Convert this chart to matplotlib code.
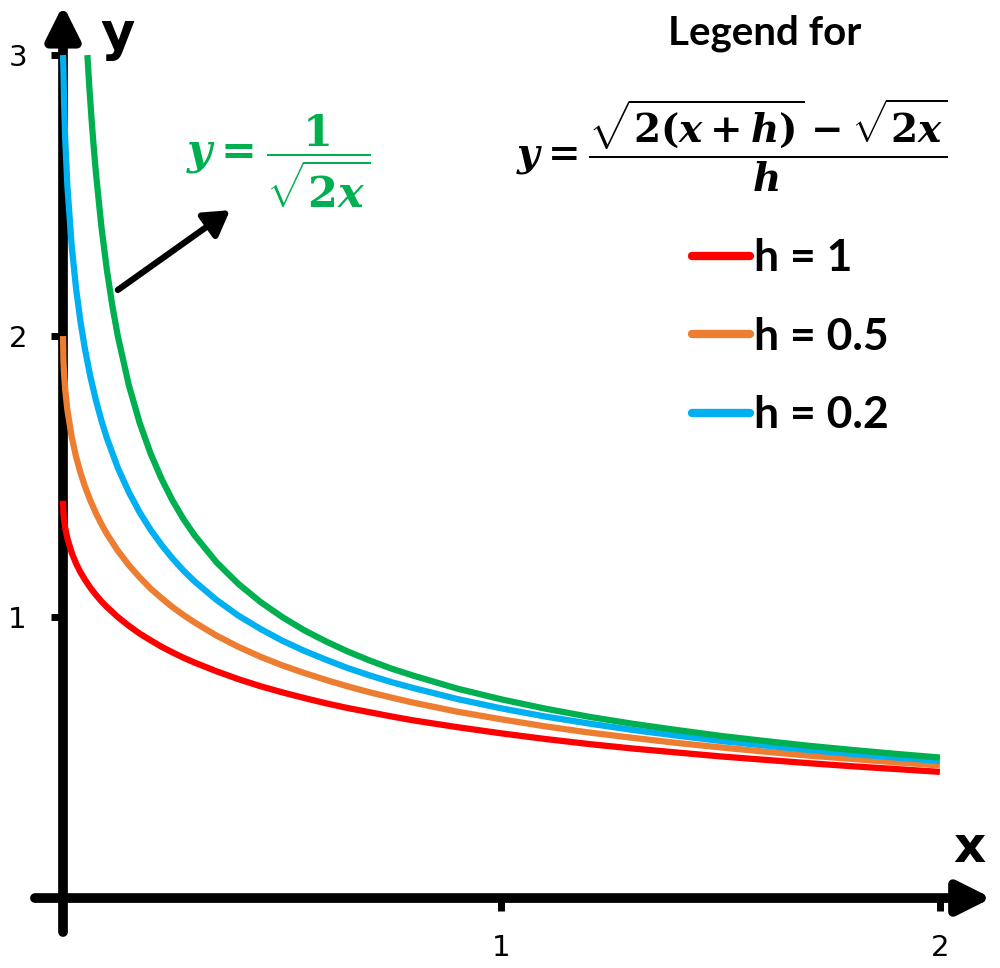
import matplotlib
matplotlib.use("Agg")
import matplotlib.pyplot as plt
from matplotlib.lines import Line2D

# values
x_h = [0, 0.001, 0.0025, 0.005, 0.01, 0.02, 0.03, 0.04, 0.05, 0.0625, 0.075, 0.0875,
       0.1, 0.125, 0.15, 0.175, 0.2, 0.225, 0.25, 0.275, 0.3, 0.35, 0.4, 0.45, 0.5,
       0.55, 0.6, 0.65, 0.7, 0.75, 0.8, 0.9, 1.0, 1.1, 1.2, 1.3, 1.4, 1.5, 1.6, 1.7,
       1.8, 1.9, 2.0]
y_h1 = [1.414, 1.370, 1.345, 1.318, 1.280, 1.228, 1.190, 1.159, 1.133, 1.104, 1.079,
        1.056, 1.036, 1.000, 0.969, 0.941, 0.917, 0.894, 0.874, 0.855, 0.838, 0.807,
        0.779, 0.754, 0.732, 0.712, 0.693, 0.676, 0.661, 0.646, 0.632, 0.608, 0.586,
        0.566, 0.548, 0.532, 0.518, 0.504, 0.492, 0.480, 0.469, 0.459, 0.449]
y_h05 = [2.000, 1.913, 1.864, 1.810, 1.737, 1.640, 1.569, 1.513, 1.465, 1.414, 1.370,
         1.331, 1.296, 1.236, 1.185, 1.141, 1.101, 1.067, 1.035, 1.007, 0.981, 0.934,
         0.894, 0.859, 0.828, 0.801, 0.776, 0.753, 0.732, 0.713, 0.695, 0.663, 0.636,
         0.611, 0.589, 0.570, 0.552, 0.536, 0.521, 0.507, 0.495, 0.483, 0.472]
y_h02 = [3.000, 2.947, 2.828, 2.702, 2.533, 2.317, 2.166, 2.050, 1.954, 1.855, 1.772,
         1.700, 1.637, 1.531, 1.445, 1.372, 1.310, 1.256, 1.208, 1.165, 1.127, 1.061,
         1.005, 0.958, 0.916, 0.880, 0.848, 0.818, 0.792, 0.768, 0.747, 0.708, 0.675,
         0.646, 0.621, 0.598, 0.578, 0.559, 0.543, 0.527, 0.513, 0.500, 0.488]
x_lim = [0.0556, 0.06, 0.065, 0.07, 0.075, 0.0875, 0.1, 0.1125, 0.125, 0.15, 0.175,
         0.2, 0.225, 0.25, 0.275, 0.3, 0.35, 0.4, 0.45, 0.5, 0.55, 0.6, 0.65, 0.7,
         0.75, 0.8, 0.9, 1.0, 1.1, 1.2, 1.3, 1.4, 1.5, 1.6, 1.7, 1.8, 1.9, 2.0]
y_lim = [3.0, 2.887, 2.774, 2.673, 2.582, 2.390, 2.236, 2.108, 2.0, 1.826, 1.690,
         1.581, 1.491, 1.414, 1.348, 1.291, 1.195, 1.118, 1.054, 1.0, 0.953, 0.913,
         0.877, 0.845, 0.816, 0.791, 0.745, 0.707, 0.674, 0.645, 0.620, 0.598, 0.577,
         0.559, 0.542, 0.527, 0.513, 0.5]

h_labels = ["h = 1", "h = 0.5", "h = 0.2"]
h_colors = ["#FF0000", "#ED7D31", "#00B0F0"]
green = "#00B050"
x_ticks = [1, 2]
y_ticks = [1, 2, 3]

plt.rcParams["mathtext.fontset"] = "custom"
plt.rcParams["mathtext.it"] = "DejaVu Serif:italic:bold"
plt.rcParams["mathtext.rm"] = "DejaVu Serif:bold"
plt.rcParams["mathtext.bf"] = "DejaVu Serif:bold"

fig = plt.figure(figsize=(10, 9.68), dpi=100)
ax = fig.add_axes([0, 0, 1, 1])
ax.set_xlim(-0.1437, 2.137)
ax.set_ylim(-0.249, 3.196)

# axes through the origin, drawn as arrows
for s in ax.spines.values():
    s.set_visible(False)
ax.spines["left"].set_position(("data", 0))
ax.spines["bottom"].set_position(("data", 0))
arrow_kw = dict(arrowstyle="-|>,head_length=0.5,head_width=0.25", lw=7, color="black",
                mutation_scale=40, shrinkA=0, shrinkB=0)
ax.annotate("", xy=(2.118, 0), xytext=(-0.064, 0), arrowprops=arrow_kw, zorder=1)
ax.annotate("", xy=(0, 3.178), xytext=(0, -0.121), arrowprops=arrow_kw, zorder=1)

ax.set_xticks(x_ticks)
ax.set_xticklabels([str(t) for t in x_ticks])
ax.set_yticks(y_ticks)
ax.set_yticklabels([str(t) for t in y_ticks])
ax.tick_params(direction="out", length=9, width=5, color="black", pad=17, labelsize=21)
for lab in ax.get_xticklabels() + ax.get_yticklabels():
    lab.set_family("DejaVu Sans")

ax.text(2.068, 0.178, "x", fontsize=36, fontweight="bold", ha="center", va="center")
ax.text(0.125, 3.07, "y", fontsize=38, fontweight="bold", ha="center", va="center")

# curves
lw = 4.5
ax.plot(x_h, y_h1, color=h_colors[0], lw=lw, solid_capstyle="butt", zorder=3)
ax.plot(x_h, y_h05, color=h_colors[1], lw=lw, solid_capstyle="butt", zorder=3)
ax.plot(x_h, y_h02, color=h_colors[2], lw=lw, solid_capstyle="butt", zorder=3)
ax.plot(x_lim, y_lim, color=green, lw=lw, solid_capstyle="butt", zorder=4)

# label of the limit curve with arrow
ax.text(0.490, 2.62, r"$y = \dfrac{1}{\sqrt{2x}}$", color=green, fontsize=31,
        ha="center", va="center")
ax.annotate("", xy=(0.381, 2.448), xytext=(0.125, 2.164),
            arrowprops=dict(arrowstyle="-|>,head_length=0.5,head_width=0.3", lw=4.5,
                            color="black", mutation_scale=30, shrinkA=0, shrinkB=0))

# legend
ax.text(1.601, 3.078, "Legend for", fontsize=29, fontweight="bold", family="Lato",
        ha="center", va="center")
ax.text(1.526, 2.68, r"$y = \dfrac{\sqrt{2(x+h)} - \sqrt{2x}}{h}$", fontsize=28,
        ha="center", va="center")
handles = [Line2D([], [], color=c, lw=6, solid_capstyle="round") for c in h_colors]
fig.legend(handles, h_labels, loc="upper left", bbox_to_anchor=(0.692, 0.754),
           frameon=False, borderpad=0, borderaxespad=0, handlelength=1.3,
           handletextpad=0.1, labelspacing=0.87,
           prop={"family": "Lato", "weight": "bold", "size": 32})

fig.savefig("out.png", dpi=100)
